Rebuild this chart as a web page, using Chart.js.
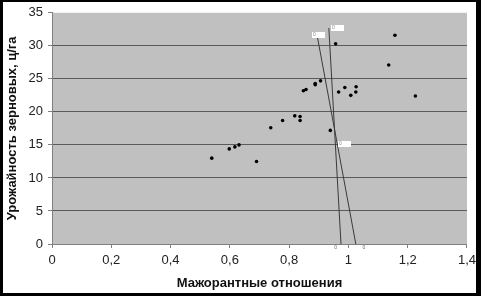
<!DOCTYPE html>
<html><head><meta charset="utf-8">
<script src="https://cdn.jsdelivr.net/npm/chart.js@4.4.0/dist/chart.umd.min.js"></script>
<style>html,body{margin:0;padding:0;background:#fff;}canvas{display:block;}</style>
</head><body>
<canvas id="c" width="481" height="296"></canvas>
<script>
// Observed points: major ratio (x) vs grain yield, c/ha (y)
const ratioX = [0.539, 0.598, 0.617, 0.631, 0.690, 0.738, 0.778, 0.819, 0.837, 0.837,
                0.848, 0.857, 0.888, 0.888, 0.906, 0.939, 0.957, 0.967, 0.988, 1.008,
                1.026, 1.025, 1.136, 1.157, 1.226];
const yieldY = [13.0, 14.4, 14.7, 15.0, 12.5, 17.6, 18.7, 19.4, 19.3, 18.7,
                23.2, 23.4, 24.1, 24.3, 24.7, 17.2, 30.3, 23.0, 23.7, 22.5,
                23.8, 23.0, 27.1, 31.6, 22.4];
// Two straight lines
const lineAX = [0.894, 1.025];
const lineAY = [31.7, 0];
const lineBX = [0.934, 0.975];
const lineBY = [32.7, 0];
// White label boxes
const boxX = [0.896, 0.960, 0.985];
const boxY = [31.7, 32.7, 15.2];
const boxText = ['0', '0', '0'];
// Tiny labels under the axis
const footX = [0.957, 1.052];
const footText = ['0', '0'];
// Tick labels
const xTickLabels = ['0', '0,2', '0,4', '0,6', '0,8', '1', '1,2', '1,4'];
const yTickLabels = ['0', '5', '10', '15', '20', '25', '30', '35'];
const xTitle = 'Мажорантные отношения';
const yTitle = 'Урожайность зерновых, ц/га';

const toPts = (xs, ys) => xs.map((x, i) => ({x: x, y: ys[i]}));

const decor = {
  id: 'decor',
  beforeDraw(chart) {
    const ctx = chart.ctx, a = chart.chartArea;
    ctx.save();
    ctx.fillStyle = '#000';
    ctx.fillRect(0, 0, chart.width, chart.height);
    ctx.fillStyle = '#fff';
    ctx.fillRect(3, 2, chart.width - 8, chart.height - 5);
    ctx.fillStyle = '#c0c0c0';
    ctx.fillRect(a.left, a.top, a.right - a.left, a.bottom - a.top);
    ctx.restore();
  },
  afterDatasetsDraw(chart) {
    const ctx = chart.ctx, xs = chart.scales.x, ys = chart.scales.y;
    ctx.save();
    ctx.font = '5px "Liberation Sans", Arial, sans-serif';
    ctx.textBaseline = 'middle';
    boxX.forEach((v, i) => {
      const px = xs.getPixelForValue(v), py = ys.getPixelForValue(boxY[i]);
      ctx.fillStyle = '#fff';
      ctx.fillRect(Math.round(px - 6), Math.round(py - 3), 13, 6);
      ctx.fillStyle = '#888';
      ctx.textAlign = 'left';
      ctx.fillText(boxText[i], Math.round(px - 5), py);
    });
    footX.forEach((v, i) => {
      const px = xs.getPixelForValue(v), py = ys.getPixelForValue(0);
      ctx.fillStyle = '#666';
      ctx.textAlign = 'center';
      ctx.fillText(footText[i], px, py + 4);
    });
    ctx.restore();
  }
};

new Chart(document.getElementById('c'), {
  type: 'scatter',
  data: {
    datasets: [
      {data: toPts(ratioX, yieldY), pointRadius: 1.8, pointBackgroundColor: '#000', pointBorderWidth: 0, showLine: false},
      {data: toPts(lineAX, lineAY), showLine: true, pointRadius: 0, borderColor: '#3a3a3a', borderWidth: 1},
      {data: toPts(lineBX, lineBY), showLine: true, pointRadius: 0, borderColor: '#3a3a3a', borderWidth: 1}
    ]
  },
  options: {
    responsive: false,
    animation: false,
    devicePixelRatio: 1,
    layout: {padding: {left: 0, top: 12, right: 13, bottom: 0}},
    plugins: {legend: {display: false}, tooltip: {enabled: false}},
    scales: {
      x: {
        type: 'linear', min: 0, max: 1.4,
        afterFit(s) { s.height = 52; },
        ticks: {stepSize: 0.2, padding: 5, color: '#222',
          font: {family: '"Liberation Sans", Arial, sans-serif', size: 13},
          callback: (v, i) => xTickLabels[i]},
        grid: {drawOnChartArea: false, tickLength: 4, color: '#808080'},
        border: {color: '#808080'},
        title: {display: true, text: xTitle, color: '#111', padding: {top: 0, bottom: 5},
          font: {family: '"Liberation Sans", Arial, sans-serif', size: 13, weight: 'bold'}}
      },
      y: {
        min: 0, max: 35,
        afterFit(s) { s.width = 52; },
        ticks: {stepSize: 5, padding: 5, color: '#222',
          font: {family: '"Liberation Sans", Arial, sans-serif', size: 13},
          callback: (v, i) => yTickLabels[i]},
        grid: {tickLength: 4, color: (c) => c.tick && c.tick.value === 35 ? 'rgba(0,0,0,0)' : '#5a5a5a', tickColor: '#808080'},
        border: {color: '#808080'},
        title: {display: true, text: yTitle, color: '#111', padding: {top: 5, bottom: 0},
          font: {family: '"Liberation Sans", Arial, sans-serif', size: 13, weight: 'bold'}}
      }
    }
  },
  plugins: [decor]
});
</script>
</body></html>
